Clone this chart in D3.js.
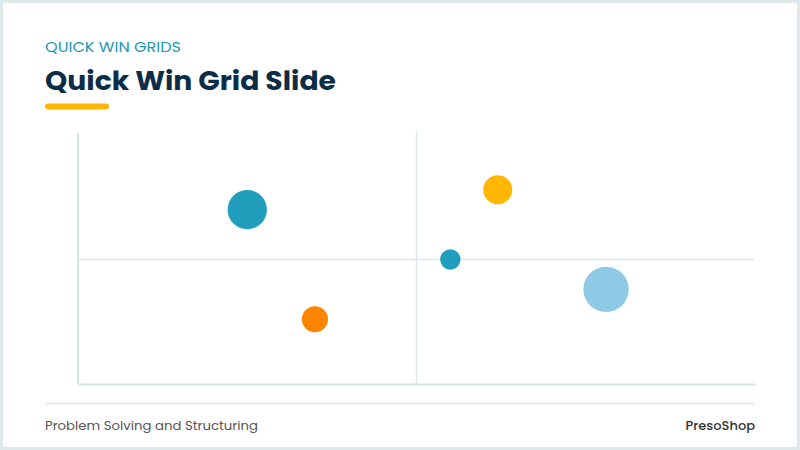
<!DOCTYPE html>
<html>
<head>
<meta charset="utf-8">
<script src="https://cdn.jsdelivr.net/npm/d3@7"></script>
<style>
  html, body { margin: 0; padding: 0; background: #ffffff; }
  svg { display: block; }
</style>
</head>
<body>
<svg id="chart" width="800" height="450"></svg>
<script>
// ---- Data ----
const labels = ["Initiative A", "Initiative B", "Initiative C", "Initiative D", "Initiative E"];
const effortX = [2.5, 3.5, 6.2, 5.5, 7.8];
const impactY = [7.0, 2.6, 7.8, 5.0, 3.8];
const sizes = [75, 33, 41, 20, 100];
const colors = ["#219ebc", "#fb8500", "#ffb703", "#219ebc", "#8ecae6"];

const kicker = "QUICK WIN GRIDS";
const title = "Quick Win Grid Slide";
const footerLeft = "Problem Solving and Structuring";
const footerRight = "PresoShop";

// ---- Drawing ----
const svg = d3.select("#chart");
const W = 800, H = 450;
const font = "Poppins, 'Open Sans', 'Noto Sans', sans-serif";

// slide frame
svg.append("rect").attr("x", 0).attr("y", 0).attr("width", W).attr("height", H).attr("fill", "#dde9ea");
svg.append("rect").attr("x", 3).attr("y", 3).attr("width", W - 6).attr("height", H - 6)
  .attr("rx", 2).attr("fill", "#ffffff");

// header
svg.append("text").attr("x", 45).attr("y", 52)
  .attr("font-family", font).attr("font-size", 15).attr("fill", "#2196b3")
  .attr("textLength", 136).attr("lengthAdjust", "spacingAndGlyphs")
  .text(kicker);
svg.append("text").attr("x", 45).attr("y", 90)
  .attr("font-family", font).attr("font-size", 27).attr("font-weight", 700).attr("fill", "#0b2d47")
  .attr("textLength", 291).attr("lengthAdjust", "spacingAndGlyphs")
  .text(title);
svg.append("rect").attr("x", 45).attr("y", 103.5).attr("width", 64).attr("height", 6)
  .attr("rx", 3).attr("fill", "#ffb703");

// scales
const x = d3.scaleLinear().domain([0, 10]).range([78, 755]);
const y = d3.scaleLinear().domain([0, 10]).range([384, 135]);
const r = d3.scaleSqrt().domain([0, 100]).range([0, 22.7]);

const g = svg.append("g");

// quadrant mid lines
g.append("line").attr("x1", x(0)).attr("x2", x(10)).attr("y1", y(5)).attr("y2", y(5))
  .attr("stroke", "#dde6ee").attr("stroke-width", 1.5);
g.append("line").attr("x1", x(5)).attr("x2", x(5)).attr("y1", y(10) - 3).attr("y2", y(0))
  .attr("stroke", "#dde6ee").attr("stroke-width", 1.5);

// axes (no ticks)
const xAxis = d3.axisBottom(x).ticks(0).tickSize(0).tickSizeOuter(0);
const yAxis = d3.axisLeft(y).ticks(0).tickSize(0).tickSizeOuter(0);
const gx = g.append("g").attr("transform", `translate(0,${y(0)})`).call(xAxis);
const gy = g.append("g").attr("transform", `translate(${x(0)},0)`).call(yAxis);
[gx, gy].forEach(a => {
  a.select(".domain").attr("stroke", "#d3e6e5").attr("stroke-width", 2);
  a.selectAll(".tick").remove();
});
gy.select(".domain").attr("d", `M0,${y(10) - 2}V${y(0)}`);

// bubbles
const data = labels.map((l, i) => ({ label: l, x: effortX[i], y: impactY[i], s: sizes[i], c: colors[i] }));
g.selectAll("circle.bubble").data(data).enter().append("circle")
  .attr("class", "bubble")
  .attr("cx", d => x(d.x)).attr("cy", d => y(d.y)).attr("r", d => r(d.s))
  .attr("fill", d => d.c);

// footer
svg.append("line").attr("x1", 45).attr("x2", 755).attr("y1", 403.5).attr("y2", 403.5)
  .attr("stroke", "#dde6e8").attr("stroke-width", 1.5);
svg.append("text").attr("x", 45).attr("y", 430)
  .attr("font-family", font).attr("font-size", 13).attr("fill", "#555555")
  .attr("textLength", 213).attr("lengthAdjust", "spacingAndGlyphs")
  .text(footerLeft);
svg.append("text").attr("x", 755).attr("y", 430).attr("text-anchor", "end")
  .attr("font-family", font).attr("font-size", 13).attr("font-weight", 500).attr("fill", "#333333")
  .text(footerRight);
</script>
</body>
</html>
